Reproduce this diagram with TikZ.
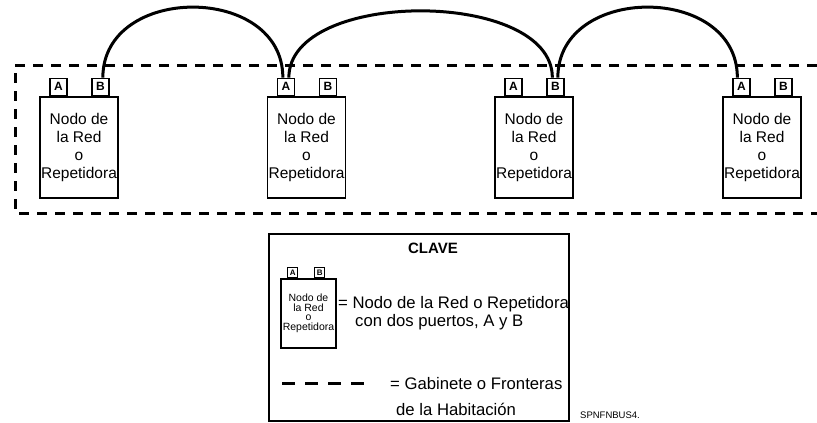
\documentclass[tikz,border=0pt]{standalone}
\usepackage{fontspec}
\setmainfont{Liberation Sans}
\usetikzlibrary{positioning}

\tikzset{
    repbox/.style={draw, line width=1.8pt, minimum width=78pt, minimum height=101pt,
        inner sep=0pt, align=center, font=\fontsize{15.5}{18}\selectfont},
    portbox/.style={draw, line width=1.5pt, minimum size=17pt, inner sep=0pt,
        font=\fontsize{12}{12}\selectfont\bfseries},
    cable/.style={line width=3pt},
    frontera/.style={line width=3pt, dash pattern=on 10pt off 8pt},
    texto/.style={anchor=base west, inner sep=0pt, font=\fontsize{16.7}{16.7}\selectfont},
}

\begin{document}
\begin{tikzpicture}[x=1pt, y=-1pt]
    \useasboundingbox (0,0) rectangle (817,423);

    % --- nodos de la red ---
    \foreach \i/\x in {1/79, 2/306.5, 3/534, 4/762} {
        \node[repbox] (rep\i) at (\x,147.5) {Nodo de\\la Red\\o\\Repetidora};
        \node[portbox, above right=0pt and 10pt of rep\i.north west] (rep\i A) {A};
        \node[portbox, above right=0pt and 52pt of rep\i.north west] (rep\i B) {B};
    }

    % --- cables entre puertos ---
    \draw[cable] ([xshift=2.5pt]rep1B.north) .. controls +(0,-94) and +(0,-94) .. ([xshift=-3pt]rep2A.north);
    \draw[cable] ([xshift=3pt]rep2A.north) .. controls +(0,-89) and +(0,-89) .. ([xshift=-3pt]rep3B.north);
    \draw[cable] ([xshift=2.5pt]rep3B.north) .. controls +(0,-94) and +(0,-94) .. ([xshift=-4pt]rep4A.north);

    % --- gabinete / frontera de la habitacion ---
    \draw[frontera] (817,65) -- (15,65) -- (15,213) -- (817,213);

    % --- clave ---
    \node[draw, line width=1.8pt, minimum width=300pt, minimum height=187pt] (clave) at (419,327.5) {};
    \node[anchor=base, inner sep=0pt, font=\fontsize{15}{15}\selectfont\bfseries] (titulo) at (433,253) {CLAVE};

    \node[repbox, line width=1.3pt, minimum width=55pt, minimum height=69pt,
        font=\fontsize{10.5}{9.5}\selectfont] (muestra) at (308.5,313.5) {Nodo de\\la Red\\o\\Repetidora};
    \node[portbox, line width=1pt, minimum size=10pt, font=\fontsize{8}{8}\selectfont\bfseries,
        above right=0pt and 7pt of muestra.north west] (muestraA) {A};
    \node[portbox, line width=1pt, minimum size=10pt, font=\fontsize{8}{8}\selectfont\bfseries,
        above right=0pt and 34pt of muestra.north west] (muestraB) {B};

    \node[texto] (ley1) at (338,308.5) {= Nodo de la Red o Repetidora};
    \node[texto] (ley2) at (355,326.5) {con dos puertos, A y B};

    \coordinate (guion0) at (282,383);
    \coordinate (guion1) at (368,383);
    \draw[line width=3pt, dash pattern=on 13pt off 10pt] (guion0) -- (guion1);

    \node[texto] (ley3) at (390,389) {= Gabinete o Fronteras};
    \node[texto] (ley4) at (396,415) {de la Habitación};

    \node[anchor=base west, inner sep=0pt, font=\fontsize{9.5}{9.5}\selectfont] (ref) at (580,418) {SPNFNBUS4.};
\end{tikzpicture}
\end{document}
